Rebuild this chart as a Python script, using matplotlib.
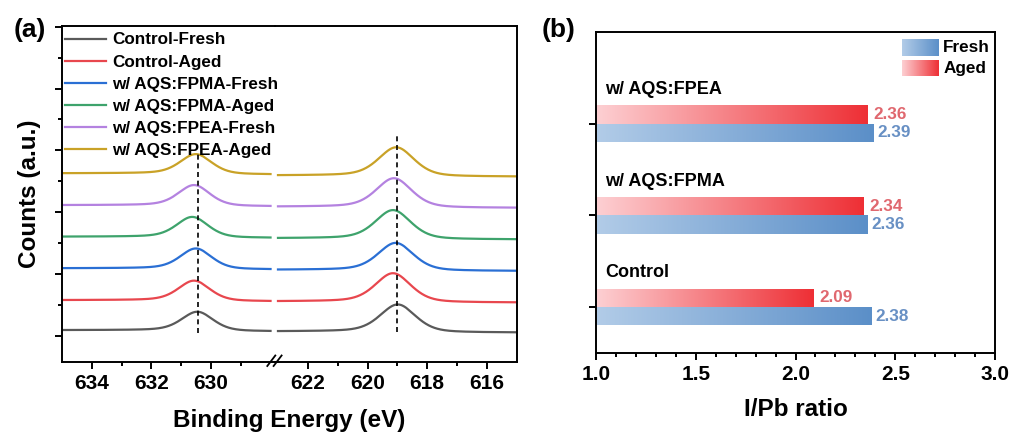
import numpy as np
import matplotlib
matplotlib.use('Agg')
import matplotlib.pyplot as plt
from matplotlib.colors import LinearSegmentedColormap
from matplotlib.lines import Line2D
from matplotlib.ticker import FixedLocator

plt.rcParams['font.family'] = ['Liberation Sans', 'DejaVu Sans']
plt.rcParams['font.weight'] = 'bold'

# ---------------- panel (a) data: XPS I 3d peaks ----------------
series_labels = ['Control-Fresh', 'Control-Aged', 'w/ AQS:FPMA-Fresh',
                 'w/ AQS:FPMA-Aged', 'w/ AQS:FPEA-Fresh', 'w/ AQS:FPEA-Aged']
series_colors = ['#5a5a5a', '#e8474e', '#2a6fd4', '#3ea36c', '#b482e0', '#c9a227']
# I 3d3/2 (left segment)
left_center = [630.45, 630.56, 630.50, 630.62, 630.56, 630.50]
left_height = [0.615, 0.65, 0.66, 0.66, 0.67, 0.64]
left_base_hi = [0.19, 1.16, 2.19, 3.21, 4.23, 5.26]
left_base_lo = [0.15, 1.12, 2.15, 3.17, 4.19, 5.22]
left_fwhm = [1.25, 1.25, 1.25, 1.25, 1.25, 1.25]
# I 3d5/2 (right segment)
right_center = [618.98, 619.14, 619.05, 619.14, 619.11, 619.03]
right_height = [0.89, 0.93, 0.89, 0.93, 0.94, 0.93]
right_base_hi = [0.15, 1.12, 2.14, 3.16, 4.18, 5.19]
right_base_lo = [0.11, 1.08, 2.10, 3.12, 4.14, 5.15]
right_fwhm = [1.40, 1.40, 1.40, 1.40, 1.40, 1.40]
left_energy_range = [635.0, 628.0]
right_energy_range = [623.0, 615.0]
ref_line_energy = [630.45, 619.0]
ref_line_top = [5.91, 6.56]
ref_line_bottom = [0.09, 0.13]

# ---------------- panel (b) data: I/Pb ratio ----------------
groups = ['Control', 'w/ AQS:FPMA', 'w/ AQS:FPEA']
fresh_ratio = [2.38, 2.36, 2.39]
aged_ratio = [2.09, 2.34, 2.36]

W, H = 1009, 433
fig = plt.figure(figsize=(W / 100, H / 100), dpi=100)


def fx(px):
    return px / W


def fy(py):
    return 1 - py / H


def pv_profile(e, c, w, eta=0.4):
    g = np.exp(-4 * np.log(2) * (e - c) ** 2 / w ** 2)
    l = 1.0 / (1 + 4 * (e - c) ** 2 / w ** 2)
    return eta * l + (1 - eta) * g


def spectrum(erange, c, h, w, b_hi, b_lo):
    e = np.linspace(min(erange), max(erange), 500)
    p = pv_profile(e, c, w)
    s = np.cumsum(p)
    s = s / s[-1]
    base = b_lo + (b_hi - b_lo) * s
    return e, base + h * p


LW_AX = 1.4
TICK_FS = 15
a_left, a_break, a_right = 62, 275, 516.7
a_top, a_bot = 25.7, 361.7
ax1 = fig.add_axes([fx(a_left), fy(a_bot), fx(a_break - a_left), (a_bot - a_top) / H])
ax2 = fig.add_axes([fx(a_break), fy(a_bot), fx(a_right - a_break), (a_bot - a_top) / H])
ax2.patch.set_visible(False)

handles = []
for i in range(len(series_labels)):
    e, y = spectrum(left_energy_range, left_center[i], left_height[i], left_fwhm[i],
                    left_base_hi[i], left_base_lo[i])
    ln, = ax1.plot(e, y, color=series_colors[i], lw=1.6)
    handles.append(ln)
    e, y = spectrum(right_energy_range, right_center[i], right_height[i], right_fwhm[i],
                    right_base_hi[i], right_base_lo[i])
    ax2.plot(e, y, color=series_colors[i], lw=1.6)

ax1.plot([ref_line_energy[0]] * 2, [ref_line_bottom[0], ref_line_top[0]],
         color='black', lw=1.2, ls=(0, (3, 2.2)), zorder=5)
ax2.plot([ref_line_energy[1]] * 2, [ref_line_bottom[1], ref_line_top[1]],
         color='black', lw=1.2, ls=(0, (3, 2.2)), zorder=5)

ylim_a = (-0.83, 10.03)
ax1.set_xlim(635.0, 627.85)
ax2.set_xlim(623.1, 615.0)
for ax in (ax1, ax2):
    ax.set_ylim(*ylim_a)
    for sp in ax.spines.values():
        sp.set_linewidth(LW_AX)
    ax.tick_params(which='major', direction='out', length=5, width=LW_AX,
                   labelsize=TICK_FS, pad=3.5)
    ax.tick_params(which='minor', direction='out', length=2.6, width=LW_AX)
ax1.spines['right'].set_visible(False)
ax2.spines['left'].set_visible(False)
ax1.xaxis.set_major_locator(FixedLocator([634, 632, 630]))
ax1.xaxis.set_minor_locator(FixedLocator([633, 631, 629]))
ax2.xaxis.set_major_locator(FixedLocator([622, 620, 618, 616]))
ax2.xaxis.set_minor_locator(FixedLocator([621, 619, 617]))
ax1.yaxis.set_major_locator(FixedLocator([0, 2, 4, 6, 8, 10]))
ax1.yaxis.set_minor_locator(FixedLocator([1, 3, 5, 7, 9]))
ax1.set_yticklabels([])
ax2.set_yticks([])
ax2.yaxis.set_minor_locator(FixedLocator([]))

# axis break marks
for x0 in (267.3, 273.6):
    fig.add_artist(Line2D([fx(x0), fx(x0 + 8)], [fy(366), fy(355.5)],
                          color='black', lw=1.3))

fig.legend(handles, series_labels, loc='upper left',
           bbox_to_anchor=(fx(65), fy(32.5)), frameon=False, borderpad=0,
           borderaxespad=0, handlelength=2.4, handletextpad=0.36,
           labelspacing=0.41, prop={'weight': 'bold', 'size': 12.3})

fig.text(fx(289), fy(427), 'Binding Energy (eV)', ha='center', va='baseline',
         fontsize=17.5, fontweight='bold')
fig.text(fx(30), fy(194), 'Counts (a.u.)', ha='center', va='center',
         rotation=90, fontsize=17.5, fontweight='bold')
fig.text(fx(30), fy(30), '(a)', ha='center', va='center', fontsize=19,
         fontweight='bold')

# ---------------- panel (b) ----------------
b_left, b_right, b_top, b_bot = 596, 995, 32, 352.7
axb = fig.add_axes([fx(b_left), fy(b_bot), fx(b_right - b_left), (b_bot - b_top) / H])

blue_cmap = LinearSegmentedColormap.from_list('fresh', ['#b2cce8', '#5b8fc8'])
red_cmap = LinearSegmentedColormap.from_list('aged', ['#fdd0d3', '#ee2f35'])
grad = np.linspace(0, 1, 256).reshape(1, -1)

ypos = np.arange(1, len(groups) + 1)
bar_h = 0.2
fresh_bars = axb.barh(ypos - bar_h / 2, np.array(fresh_ratio) - 1.0, left=1.0,
                      height=bar_h, color='none', edgecolor='none')
aged_bars = axb.barh(ypos + bar_h / 2, np.array(aged_ratio) - 1.0, left=1.0,
                     height=bar_h, color='none', edgecolor='none')
for bars, cmap in ((fresh_bars, blue_cmap), (aged_bars, red_cmap)):
    for bar in bars:
        x0, y0 = bar.get_x(), bar.get_y()
        im = axb.imshow(grad, cmap=cmap, extent=[x0, x0 + bar.get_width(), y0, y0 + bar.get_height()],
                        aspect='auto', interpolation='bicubic', zorder=2)
        im.set_clip_path(bar)

for i in range(len(groups)):
    axb.annotate(f'{fresh_ratio[i]:.2f}', xy=(fresh_ratio[i], ypos[i] - bar_h / 2),
                 xytext=(3, 0), textcoords='offset points', ha='left', va='center',
                 color='#6890c4', fontsize=12.3, fontweight='bold')
    axb.annotate(f'{aged_ratio[i]:.2f}', xy=(aged_ratio[i], ypos[i] + bar_h / 2),
                 xytext=(4.5, 0), textcoords='offset points', ha='left', va='center',
                 color='#e0686f', fontsize=12.3, fontweight='bold')
    axb.text(1.045, ypos[i] + 0.37, groups[i], ha='left', va='center',
             fontsize=13, fontweight='bold')

axb.set_xlim(1.0, 3.0)
axb.set_ylim(0.5, 4.0)
axb.set_xticks([1.0, 1.5, 2.0, 2.5, 3.0])
axb.set_xticklabels(['1.0', '1.5', '2.0', '2.5', '3.0'])
axb.xaxis.set_minor_locator(FixedLocator(np.arange(1.1, 3.0, 0.1)))
axb.set_yticks(ypos)
axb.set_yticklabels([])
for sp in axb.spines.values():
    sp.set_linewidth(LW_AX)
axb.tick_params(which='major', direction='out', length=5, width=LW_AX,
                labelsize=TICK_FS, pad=3.5)
axb.tick_params(which='minor', direction='out', length=2.6, width=LW_AX)

# legend for panel (b)
for (yy0, yy1), cmap, lab in (((56, 39.3), blue_cmap, 'Fresh'),
                               ((76, 60), red_cmap, 'Aged')):
    lax = axb.inset_axes([(901.7 - b_left) / (b_right - b_left),
                          (b_bot - yy0) / (b_bot - b_top),
                          (938.3 - 901.7) / (b_right - b_left),
                          (yy0 - yy1) / (b_bot - b_top)])
    lax.imshow(grad, cmap=cmap, aspect='auto', interpolation='bicubic')
    lax.axis('off')
    axb.text((943.3 - b_left) / (b_right - b_left),
             (b_bot - (yy0 + yy1) / 2) / (b_bot - b_top), lab,
             transform=axb.transAxes, ha='left', va='center', fontsize=12.3,
             fontweight='bold')

fig.text(fx(795.5), fy(416.5), 'I/Pb ratio', ha='center', va='baseline',
         fontsize=17.5, fontweight='bold')
fig.text(fx(559), fy(30), '(b)', ha='center', va='center', fontsize=19,
         fontweight='bold')

fig.savefig('out.png', dpi=100)
